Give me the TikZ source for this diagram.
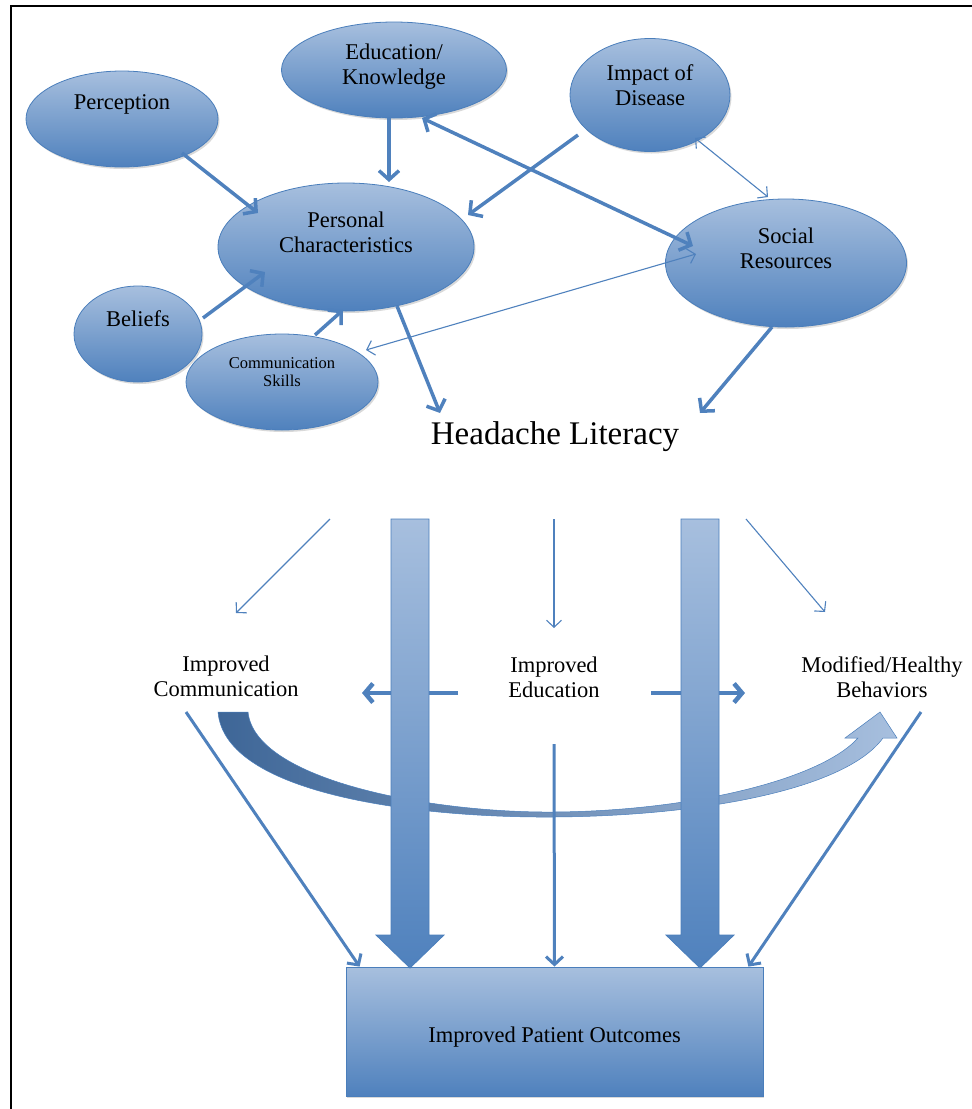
\documentclass[tikz,border=0pt]{standalone}
\usepackage{fontspec}
\setmainfont{Liberation Serif}
\usepackage{tikz}
\usetikzlibrary{arrows.meta,shapes,positioning,shadows,calc}
\definecolor{hlblue}{RGB}{79,129,189}
\definecolor{hlline}{RGB}{74,126,187}
\definecolor{hllight}{RGB}{167,191,222}
\definecolor{hldark}{RGB}{62,102,151}
\tikzstyle{bubble} = [ellipse, draw=hlline, line width=0.8pt, top color=hllight, bottom color=hlblue, inner sep=0pt, drop shadow={shadow xshift=1.5pt, shadow yshift=-2pt, fill=black!25, opacity=0.6}]
\tikzstyle{bubbletext} = [align=center, font=\fontsize{22.5}{25}\selectfont]
\tikzstyle{outbox} = [rectangle, draw=hlline, line width=0.8pt, top color=hllight, bottom color=hlblue, font=\fontsize{22.5}{25}\selectfont, drop shadow={shadow xshift=1pt, shadow yshift=-2pt, fill=black!25, opacity=0.6}]
\tikzstyle{arrow} = [line width=3.5pt, -{Straight Barb[length=9pt,width=20pt]}, color=hlblue]
\tikzstyle{bothway} = [line width=3.5pt, {Straight Barb[length=9pt,width=20pt]}-{Straight Barb[length=9pt,width=20pt]}, color=hlblue]
\tikzstyle{thinarrow} = [line width=1.1pt, -{Straight Barb[length=7pt,width=15pt]}, color=hlblue]
\tikzstyle{thinboth} = [line width=1.1pt, {Straight Barb[length=7pt,width=15pt]}-{Straight Barb[length=7pt,width=15pt]}, color=hlblue]
\tikzstyle{midarrow} = [line width=3pt, -{Straight Barb[length=8pt,width=17pt]}, color=hlblue]
\tikzstyle{harrow} = [line width=4.5pt, -{Straight Barb[length=8pt,width=19pt]}, color=hlblue]
\tikzstyle{bigarrow} = [draw=hlline, line width=0.8pt, top color=hllight, bottom color=hlblue]
\tikzstyle{curvearrow} = [draw=hlline, line width=0.5pt, left color=hldark, middle color=hlblue, right color=hllight]

\begin{document}
\begin{tikzpicture}[x=1pt,y=-1pt]
\useasboundingbox (0,0) rectangle (972,1109);
% Frame
\draw[line width=2.5pt] (11,1109) -- (11,6) -- (972,6);

% Perception
\node[bubble, minimum width=192, minimum height=96] (perc) at (122,119) {};
\node[bubbletext] (percT) at ($(perc)+(0,-15)$) {Perception};

% Education
\node[bubble, minimum width=225, minimum height=96] (edu) at (394,70) {};
\node[bubbletext] (eduT) at ($(edu)+(0,-3)$) {Education/\\Knowledge};

% Impact of disease
\node[bubble, minimum width=160, minimum height=113] (imp) at (650,95) {};
\node[bubbletext] (impT) at ($(imp)+(0,-10)$) {Impact of\\Disease};

% Personal characteristics
\node[bubble, minimum width=256, minimum height=128] (pc) at (346,247) {};
\node[bubbletext] (pcT) at ($(pc)+(0,-15)$) {Personal\\Characteristics};

% Social resources
\node[bubble, minimum width=241, minimum height=128] (soc) at (786,263) {};
\node[bubbletext] (socT) at ($(soc)+(0,-15)$) {Social\\Resources};

% Beliefs
\node[bubble, minimum width=128, minimum height=96] (bel) at (138,334) {};
\node[bubbletext] (belT) at ($(bel)+(0,-15)$) {Beliefs};

% Communication skills
\node[bubble, minimum width=192, minimum height=96] (com) at (282,382) {};
\node[bubbletext, font=\fontsize{16.5}{18}\selectfont] (comT) at ($(com)+(0,-10)$) {Communication\\Skills};

% Headache literacy
\node[font=\fontsize{33}{36}\selectfont] (hl) at (555,437) {Headache Literacy};

\draw[arrow] ($(perc)+(60,34)$) -- ($(pc)+(-88,-34)$);
\draw[arrow] ($(edu)+(-5,48)$) -- ($(pc)+(43,-65)$);
\draw[arrow] ($(imp)+(-72,40)$) -- ($(pc)+(122,-32)$);
\draw[bothway] ($(edu)+(28,48)$) -- ($(soc)+(-93,-17)$);
\draw[thinboth] ($(imp)+(45,43)$) -- ($(soc)+(-18,-66)$);
\draw[thinboth] ($(soc)+(-90,-9)$) -- ($(com)+(84,-32)$);
\draw[arrow] ($(bel)+(65,-16)$) -- ($(pc)+(-81,25)$);
\draw[arrow] ($(com)+(33,-47)$) -- ($(pc)+(-3,63)$);
\draw[arrow] ($(pc)+(51,59)$) -- ($(hl)+(-115,-24)$);
\draw[arrow] ($(soc)+(-14,64)$) -- ($(hl)+(145,-24)$);

% Outcomes
\node[bubbletext] (impcom) at (226,676) {Improved\\Communication};
\node[bubbletext] (impedu) at (554,677) {Improved\\Education};
\node[bubbletext] (modbeh) at (882,677) {Modified/Healthy\\Behaviors};
\node[outbox, minimum width=417, minimum height=129, text height=27pt, text depth=5pt] (outc) at (554.5,1031.5) {Improved Patient Outcomes};

\coordinate (hlL) at (330,519);
\coordinate (hlM) at (554,519);
\coordinate (hlR) at (746,519);
\draw[thinarrow] (hlL) -- ($(impcom)+(10,-63)$);
\draw[thinarrow] (hlM) -- ($(impedu)+(0,-49)$);
\draw[thinarrow] (hlR) -- ($(modbeh)+(-57,-65)$);

% curved arrow
\path[curvearrow] (218,712) .. controls (225,795) and (420,818) .. (554,817)
  .. controls (700,816) and (845,790) .. (883,738) -- (897,738) -- (880,712)
  -- (845,738) -- (858,738) .. controls (820,780) and (690,811) .. (554,812)
  .. controls (430,813) and (255,780) .. (248,712) -- cycle;

\draw[harrow] ($(impedu)+(-96,16)$) -- ($(impedu)+(-192,16)$);
\draw[harrow] ($(impedu)+(97,16)$) -- ($(impedu)+(191,16)$);

% big arrows
\foreach \bx in {410,700} {
  \path[bigarrow] (\bx-19,519) -- (\bx+19,519) -- (\bx+19,935) -- (\bx+34,935)
    -- (\bx,968) -- (\bx-34,935) -- (\bx-19,935) -- cycle;
}

\draw[midarrow] ($(impcom)+(-40,36)$) -- ($(outc.north west)+(14,0)$);
\draw[midarrow] ($(impedu)+(0,67)$) -- (outc.north);
\draw[midarrow] ($(modbeh)+(39,35)$) -- ($(outc.north east)+(-15,0)$);
\end{tikzpicture}
\end{document}
